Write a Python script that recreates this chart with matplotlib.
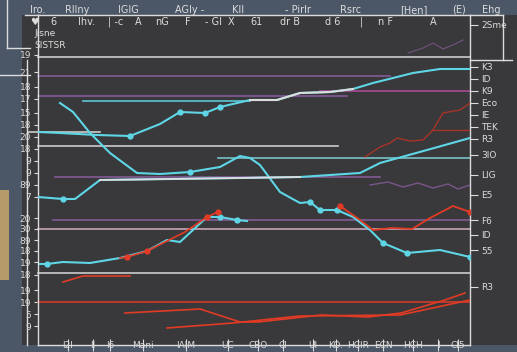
import matplotlib
matplotlib.use("Agg")
import matplotlib.pyplot as plt
from matplotlib.patches import Rectangle
from matplotlib.lines import Line2D

# ---- data ----
x_main = [22, 35, 52, 72, 99, 122, 152, 182, 202, 212, 222, 242, 262, 272, 282, 299, 315, 332, 345, 369, 402, 432]
y_main = [242, 233, 212, 192, 172, 171, 173, 178, 189, 187, 180, 153, 142, 143, 135, 135, 128, 115, 102, 92, 95, 88]
x_rise = [0, 22, 59, 92, 122, 142, 167, 182, 212, 239, 262, 292, 315, 335, 375, 402, 432]
y_rise = [213, 212, 210, 209, 221, 233, 232, 238, 245, 245, 252, 253, 256, 262, 272, 276, 276]
x_mid = [0, 25, 37, 62, 202, 262, 322, 342, 389, 432]
y_mid = [148, 146, 146, 165, 167, 168, 172, 182, 195, 207]
x_low = [2, 9, 25, 52, 82, 109, 129, 142, 169, 182, 199, 209]
y_low = [81, 81, 83, 82, 87, 94, 105, 103, 128, 128, 125, 124]
x_red_low = [82, 89, 109, 147, 169, 180]
y_red_low = [87, 88, 94, 113, 128, 133]
x_red_mid = [302, 322, 335, 354, 374, 392, 415, 432]
y_red_mid = [139, 125, 115, 117, 116, 127, 139, 133]
x_red_up = [327, 342, 352, 359, 372, 385, 395, 405, 422, 432]
y_red_up = [188, 198, 202, 207, 204, 205, 215, 232, 235, 242]
x_red_b = [87, 162, 202, 220, 283, 330, 363, 407, 427]
y_red_b = [32, 36, 23, 23, 30, 28, 32, 45, 52]
x_red_c = [129, 195, 262, 362, 432]
y_red_c = [17, 22, 29, 30, 45]
x_red_s = [25, 45, 92]
y_red_s = [63, 69, 69]
x_purple = [332, 350, 365, 380, 395, 410, 420, 432]
y_purple = [160, 163, 158, 162, 157, 161, 156, 160]
x_purple_top = [370, 385, 395, 405, 415, 425]
y_purple_top = [292, 297, 302, 296, 300, 305]

ref_y = [288, 269, 249, 254, 244, 199, 168, 125, 116, 72, 43, 187, 213]
ref_x0 = [0, 0, 0, 282, 45, 0, 17, 15, 0, 0, 0, 180, -10]
ref_x1 = [432, 352, 309, 432, 212, 300, 342, 432, 432, 432, 432, 432, 62]

header_top = ["Iro.", "Rllny", "IGIG", "AGIy -", "KII", "- Pirlr", "Rsrc", "[Hen]", "(E)", "Ehg"]
header_sub = ["♥", "6", "Ihv.", "| -c", "A", "nG", "F", "- GI", "X", "61", "dr B", "d 6", "|", "n F", "A"]
inner_labels = ["Jisne", "SISTSR"]
inner_vals = [312, 300]
left_labels = ["19", "21", "18", "17", "15", "18", "20", "18", "9", "9", "89", "7", "20", "30", "89", "18", "19", "18", "19", "19", "5", "9"]
left_vals = [290, 273, 258, 246, 232, 220, 208, 196, 184, 172, 160, 148, 127, 116, 105, 94, 83, 70, 55, 43, 31, 19]
right_labels = ["2Sme", "K3", "ID", "K9", "Eco", "IE", "TEK", "R3", "3IO", "LIG", "E5", "F6", "ID", "55", "R3"]
right_vals = [320, 278, 266, 254, 242, 230, 218, 206, 190, 170, 150, 125, 110, 95, 58]
bottom_labels = ["I2I", "II", "I6", "Mani", "IAIM", "UC", "CBO", "Cl", "UI", "KO.", "HCIR", "ECN", "HCH", "I", "CI5"]
bottom_vals = [30, 55, 72, 105, 148, 190, 220, 245, 275, 298, 320, 345, 375, 400, 420]

# ---- styles ----
BG = "#4b5667"
PANEL = "#39393b"
CYAN = "#5ed6e6"
RED = "#e23b25"
PURPLE = "#8b5d9e"
WHITE = "#dcdcdc"
MAGENTA = "#b24c9c"
PINK = "#d9b3c6"
DARKRED = "#a83428"
ref_colors = [WHITE, PURPLE, PURPLE, MAGENTA, CYAN, WHITE, PURPLE, PURPLE, PINK, WHITE, RED, "#7fd0d8", WHITE]

W, H = 517, 352
fig = plt.figure(figsize=(W / 100, H / 100), dpi=100, facecolor=BG)

def fx(px):
    return px / W

def fy(py):
    return 1 - py / H

# dark panel behind the axes
fig.patches.append(Rectangle((fx(22), fy(345)), fx(495), 330 / H, transform=fig.transFigure,
                             facecolor=PANEL, edgecolor="none", zorder=-5))
fig.patches.append(Rectangle((0, fy(280)), fx(9), 90 / H, transform=fig.transFigure,
                             facecolor="#b59a6a", edgecolor="none", zorder=-5))

ax = fig.add_axes([fx(38), fy(345), fx(432), 330 / H])
ax.set_zorder(2)
ax.set_facecolor(PANEL)
ax.set_xlim(0, 432)
ax.set_ylim(0, 330)

for y, a, b, c in zip(ref_y, ref_x0, ref_x1, ref_colors):
    ax.plot([a, b], [y, y], color=c, lw=1.2, alpha=0.9, clip_on=False, zorder=2)

ax.plot(x_purple, y_purple, color=PURPLE, lw=1, alpha=0.8, zorder=3)
ax.plot(x_purple_top, y_purple_top, color=PURPLE, lw=0.8, alpha=0.7, zorder=3)
ax.plot(x_red_up, y_red_up, color=DARKRED, lw=1, zorder=3)
ax.plot([395, 432], [215, 215], color=DARKRED, lw=1, zorder=3)
ax.plot(x_red_b, y_red_b, color=RED, lw=1.2, zorder=3)
ax.plot(x_red_c, y_red_c, color=RED, lw=1.2, zorder=3)
ax.plot(x_red_s, y_red_s, color=RED, lw=1.2, zorder=3)

ax.plot(x_main, y_main, color=CYAN, lw=1.5, zorder=4)
ax.plot([x_main[6], x_main[13], x_main[14], x_main[15], x_main[18], x_main[19], x_main[21]],
        [y_main[6], y_main[13], y_main[14], y_main[15], y_main[18], y_main[19], y_main[21]],
        "o", color=CYAN, ms=3.5, zorder=5)
ax.plot(x_rise, y_rise, color=CYAN, lw=1.5, zorder=4)
ax.plot(x_rise[8:13], y_rise[8:13], color=WHITE, lw=1.5, zorder=4)
ax.plot([x_rise[3], x_rise[5], x_rise[6], x_rise[7]], [y_rise[3], y_rise[5], y_rise[6], y_rise[7]],
        "o", color=CYAN, ms=3.5, zorder=5)
ax.plot(x_mid, y_mid, color=CYAN, lw=1.5, zorder=4)
ax.plot(x_mid[3:6], y_mid[3:6], color=WHITE, lw=1.3, zorder=4)
ax.plot([x_mid[1]], [y_mid[1]], "o", color=CYAN, ms=3.5, zorder=5)
ax.plot(x_low, y_low, color=CYAN, lw=1.5, zorder=4)
ax.plot([x_low[1], x_low[9], x_low[10]], [y_low[1], y_low[9], y_low[10]], "o", color=CYAN, ms=3.5, zorder=5)
ax.plot(x_red_low, y_red_low, color=RED, lw=1.2, zorder=5)
ax.plot([x_red_low[1], x_red_low[2], x_red_low[4], x_red_low[5]],
        [y_red_low[1], y_red_low[2], y_red_low[4], y_red_low[5]], "o", color=RED, ms=3.5, zorder=6)
ax.plot(x_red_mid, y_red_mid, color=RED, lw=1.3, zorder=4)
ax.plot([x_red_mid[0], x_red_mid[-1]], [y_red_mid[0], y_red_mid[-1]], "o", color=RED, ms=3.5, zorder=5)

for y, t in zip(inner_vals, inner_labels):
    ax.text(-4, y, t, color=WHITE, fontsize=6.5, va="center", ha="left", zorder=6)

for s in ["top", "left", "right", "bottom"]:
    ax.spines[s].set_color(WHITE)
    ax.spines[s].set_linewidth(1)

ax.set_yticks(left_vals)
ax.set_yticklabels(left_labels)
ax.tick_params(axis="y", colors=WHITE, labelsize=6.5, length=3, pad=2)
ax.set_xticks(bottom_vals)
ax.set_xticklabels(bottom_labels)
ax.tick_params(axis="x", colors=WHITE, labelsize=6.5, length=8, pad=-7, direction="inout")

ax2 = ax.twinx()
ax2.set_zorder(3)
ax2.set_ylim(0, 330)
ax2.set_yticks(right_vals)
ax2.set_yticklabels(right_labels)
ax2.tick_params(axis="y", colors=WHITE, labelsize=6.5, length=6, pad=2)
for s in ax2.spines.values():
    s.set_visible(False)

# header text rows
top_x = [30, 65, 118, 175, 232, 285, 340, 400, 452, 482]
for x, t in zip(top_x, header_top):
    fig.text(fx(x), fy(10), t, color=WHITE, fontsize=7, va="center", ha="left", zorder=10)
sub_x = [30, 50, 78, 108, 135, 155, 185, 205, 228, 250, 280, 325, 360, 378, 430]
for x, t in zip(sub_x, header_sub):
    fig.text(fx(x), fy(22), t, color=WHITE, fontsize=7, va="center", ha="left", zorder=10)

# extra frame lines
frame = dict(color=WHITE, lw=1, transform=fig.transFigure, zorder=10)
fig.add_artist(Line2D([fx(27), fx(27)], [fy(60), fy(345)], **frame))
fig.add_artist(Line2D([fx(25), fx(38)], [fy(15), fy(15)], **frame))
fig.add_artist(Line2D([fx(7), fx(7)], [fy(0), fy(48)], **frame))
fig.add_artist(Line2D([fx(7), fx(30)], [fy(48), fy(48)], **frame))
fig.add_artist(Line2D([fx(0), fx(30)], [fy(75), fy(75)], **frame))
fig.add_artist(Line2D([fx(470), fx(503)], [fy(15), fy(15)], **frame))
fig.add_artist(Line2D([fx(503), fx(503)], [fy(15), fy(60)], **frame))
fig.add_artist(Line2D([fx(470), fx(512)], [fy(60), fy(60)], **frame))

fig.savefig("out.png", dpi=100, facecolor=BG)
